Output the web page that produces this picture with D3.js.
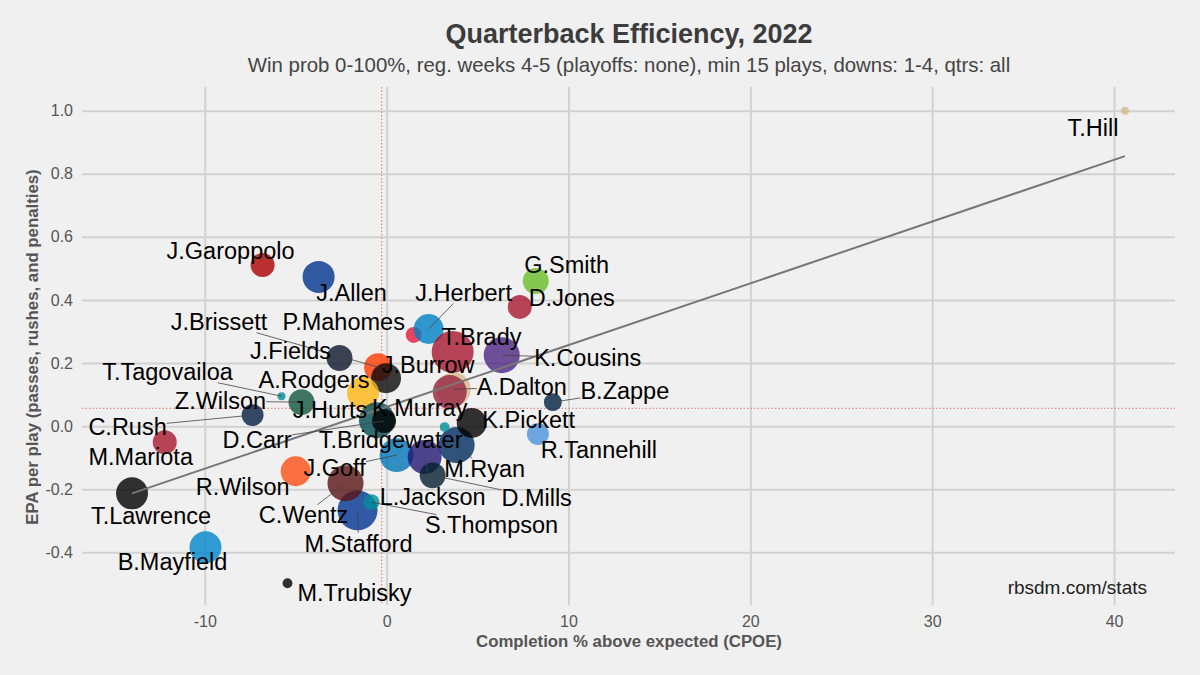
<!DOCTYPE html>
<html>
<head>
<meta charset="utf-8">
<script src="https://cdn.jsdelivr.net/npm/d3@7"></script>
<style>
  body { margin: 0; background: #f0f0f0; }
  svg { display: block; font-family: "Liberation Sans", Arial, sans-serif; }
</style>
</head>
<body>
<svg id="chart" width="1200" height="675"></svg>
<script>
// data
const players = ["T.Hill", "J.Garoppolo", "J.Allen", "G.Smith", "D.Jones", "P.Mahomes", "J.Herbert",
  "T.Brady", "K.Cousins", "J.Fields", "J.Brissett", "J.Burrow", "A.Rodgers", "A.Dalton", "K.Murray",
  "B.Zappe", "Z.Wilson", "T.Tagovailoa", "C.Rush", "J.Hurts", "D.Carr", "M.Ryan", "K.Pickett",
  "T.Bridgewater", "R.Tannehill", "M.Mariota", "J.Goff", "L.Jackson", "R.Wilson", "D.Mills",
  "M.Stafford", "C.Wentz", "S.Thompson", "T.Lawrence", "B.Mayfield", "M.Trubisky"];
const cpoe = [40.6, -6.82, -3.74, 8.2, 7.32, 1.49, 2.31,
  3.63, 6.33, -2.59, -0.47, -0.03, -1.30, 3.69, 3.47,
  9.14, -4.68, -5.78, -7.37, -0.53, -0.14, 3.85, 4.68,
  3.19, 8.32, -12.2, 0.55, 2.09, -5.0, 2.53,
  -1.6, -2.26, -0.83, -14.0, -9.96, -5.45];
const epa = [1.00, 0.511, 0.473, 0.46, 0.378, 0.289, 0.308,
  0.235, 0.225, 0.216, 0.187, 0.152, 0.105, 0.117, 0.108,
  0.076, 0.076, 0.095, 0.035, 0.019, 0.016, -0.060, 0.010,
  -0.003, -0.025, -0.051, -0.092, -0.098, -0.143, -0.156,
  -0.267, -0.181, -0.241, -0.213, -0.384, -0.498];
const plays = [4, 36, 64, 42, 36, 16, 56,
  110, 81, 42, 49, 56, 64, 72, 72,
  20, 42, 4, 30, 81, 36, 81, 56,
  6, 30, 36, 72, 72, 56, 42,
  100, 81, 16, 64, 64, 6];

const xTicks = [-10, 0, 10, 20, 30, 40];
const xTickLabels = ["-10", "0", "10", "20", "30", "40"];
const yTicks = [-0.4, -0.2, 0, 0.2, 0.4, 0.6, 0.8, 1.0];
const yTickLabels = ["-0.4", "-0.2", "0.0", "0.2", "0.4", "0.6", "0.8", "1.0"];

const meanCpoe = -0.27;
const meanEpa = 0.0565;
const trendX = [-14.0, 40.6];
const trendY = [-0.213, 0.856];

// styling
const teamColors = ["#D3BC8D", "#AA0000", "#00338D", "#69BE28", "#A71930", "#E31837", "#0080C6",
  "#A71930", "#4F2683", "#0B162A", "#FF3C00", "#0a0a0a", "#FFB612", "#D3BC8D", "#97233F",
  "#002244", "#125740", "#008E97", "#041E42", "#004C54", "#000000", "#002C5F", "#000000",
  "#008E97", "#4B92DB", "#A71930", "#0076B6", "#241773", "#FB4F14", "#03202F",
  "#003594", "#5A1414", "#008E97", "#000000", "#0085CA", "#000000"];
// label placement relative to each point, in pixels (repel layout)
const labelOffsets = [[-32, 17], [-32, -14], [33, 16], [31, -16], [52, -9], [-70, -13], [35, -36],
  [29, -15], [86, 3], [-49, -7], [-159, -45], [42, -13], [-49, -13], [68, -2], [-30, 16],
  [72, -11], [-81, -1], [-114, -24], [-125, 12], [-47, -10], [-127, 19], [28, 24], [57, -3],
  [-54, 13], [61, 16], [-24, 15], [-62, 13], [8, 40], [-53, 16], [104, 22],
  [1, 33], [-42, 32], [120, 23], [19, 22], [-33, 15], [67, 10]];

const width = 1200, height = 675;
const panel = { left: 82, right: 1175, top: 87, bottom: 605 };
const labelSize = 23.5;

const svg = d3.select("#chart");
svg.append("rect").attr("width", width).attr("height", height).attr("fill", "#f0f0f0");

const x = d3.scaleLinear().domain([-16.75, 43.35]).range([panel.left, panel.right]);
const y = d3.scaleLinear().domain([-0.567, 1.075]).range([panel.bottom, panel.top]);
const r = d3.scaleSqrt().domain([0, 100]).range([0, 20]);

// axes + grid
const gx = svg.append("g")
    .attr("transform", `translate(0,${panel.bottom})`)
    .call(d3.axisBottom(x)
        .tickValues(xTicks)
        .tickSize(-(panel.bottom - panel.top))
        .tickPadding(11)
        .tickFormat((d, i) => xTickLabels[i]));
gx.select(".domain").remove();
gx.selectAll("line").attr("stroke", "#d2d2d2").attr("stroke-width", 2);
gx.selectAll("text").attr("font-size", 16).attr("fill", "#555")
    .attr("font-family", "Liberation Sans, Arial, sans-serif");

const gy = svg.append("g")
    .attr("transform", `translate(${panel.left},0)`)
    .call(d3.axisLeft(y)
        .tickValues(yTicks)
        .tickSize(-(panel.right - panel.left))
        .tickPadding(9)
        .tickFormat((d, i) => yTickLabels[i]));
gy.select(".domain").remove();
gy.selectAll("line").attr("stroke", "#d2d2d2").attr("stroke-width", 2);
gy.selectAll("text").attr("font-size", 16).attr("fill", "#555")
    .attr("font-family", "Liberation Sans, Arial, sans-serif");

// mean reference lines
svg.append("line")
    .attr("x1", x(meanCpoe)).attr("x2", x(meanCpoe))
    .attr("y1", panel.top).attr("y2", panel.bottom)
    .attr("stroke", "#f07070").attr("stroke-width", 1).attr("stroke-dasharray", "1.5,2");
svg.append("line")
    .attr("x1", panel.left).attr("x2", panel.right)
    .attr("y1", y(meanEpa)).attr("y2", y(meanEpa))
    .attr("stroke", "#f07070").attr("stroke-width", 1).attr("stroke-dasharray", "1.5,2");

// points
const idx = d3.range(players.length);
svg.append("g").selectAll("circle")
    .data(idx)
    .enter()
    .append("circle")
    .attr("cx", i => x(cpoe[i]))
    .attr("cy", i => y(epa[i]))
    .attr("r", i => r(plays[i]))
    .attr("fill", i => teamColors[i])
    .attr("fill-opacity", 0.8);

// fit line
svg.append("line")
    .attr("x1", x(trendX[0])).attr("y1", y(trendY[0]))
    .attr("x2", x(trendX[1])).attr("y2", y(trendY[1]))
    .attr("stroke", "#777").attr("stroke-width", 2);

// labels
const segG = svg.append("g");
const labG = svg.append("g");
labG.selectAll("text")
    .data(idx)
    .enter()
    .append("text")
    .attr("x", i => x(cpoe[i]) + labelOffsets[i][0])
    .attr("y", i => y(epa[i]) + labelOffsets[i][1])
    .attr("dy", "0.35em")
    .attr("text-anchor", "middle")
    .attr("font-size", labelSize)
    .attr("fill", "#000")
    .text(i => players[i])
    .each(function (i) {
        const bb = this.getBBox();
        const px = x(cpoe[i]), py = y(epa[i]);
        const cx = px + labelOffsets[i][0], cy = py + labelOffsets[i][1];
        const hw = bb.width / 2, hh = labelSize * 0.45;
        // distance from point to label box
        const ddx = Math.max(Math.abs(px - cx) - hw, 0);
        const ddy = Math.max(Math.abs(py - cy) - hh, 0);
        if (Math.hypot(ddx, ddy) < 12.5) return;
        const vx = px - cx, vy = py - cy;
        const t = Math.min(vx ? hw / Math.abs(vx) : Infinity, vy ? hh / Math.abs(vy) : Infinity);
        segG.append("line")
            .attr("x1", cx + vx * t).attr("y1", cy + vy * t)
            .attr("x2", px).attr("y2", py)
            .attr("stroke", "#444").attr("stroke-width", 0.8);
    });

// titles
svg.append("text")
    .attr("x", 629).attr("y", 43)
    .attr("text-anchor", "middle")
    .attr("font-size", 27).attr("font-weight", "bold").attr("fill", "#3c3c3c")
    .text("Quarterback Efficiency, 2022");
svg.append("text")
    .attr("x", 629).attr("y", 72)
    .attr("text-anchor", "middle")
    .attr("font-size", 20.4).attr("fill", "#444")
    .text("Win prob 0-100%, reg. weeks 4-5 (playoffs: none), min 15 plays, downs: 1-4, qtrs: all");

svg.append("text")
    .attr("x", 629).attr("y", 647)
    .attr("text-anchor", "middle")
    .attr("font-size", 16.8).attr("font-weight", "bold").attr("fill", "#555")
    .text("Completion % above expected (CPOE)");
svg.append("text")
    .attr("transform", "translate(38,347) rotate(-90)")
    .attr("text-anchor", "middle")
    .attr("font-size", 16.8).attr("font-weight", "bold").attr("fill", "#555")
    .text("EPA per play (passes, rushes, and penalties)");

svg.append("text")
    .attr("x", 1147).attr("y", 594)
    .attr("text-anchor", "end")
    .attr("font-size", 19).attr("fill", "#222")
    .text("rbsdm.com/stats");
</script>
</body>
</html>
